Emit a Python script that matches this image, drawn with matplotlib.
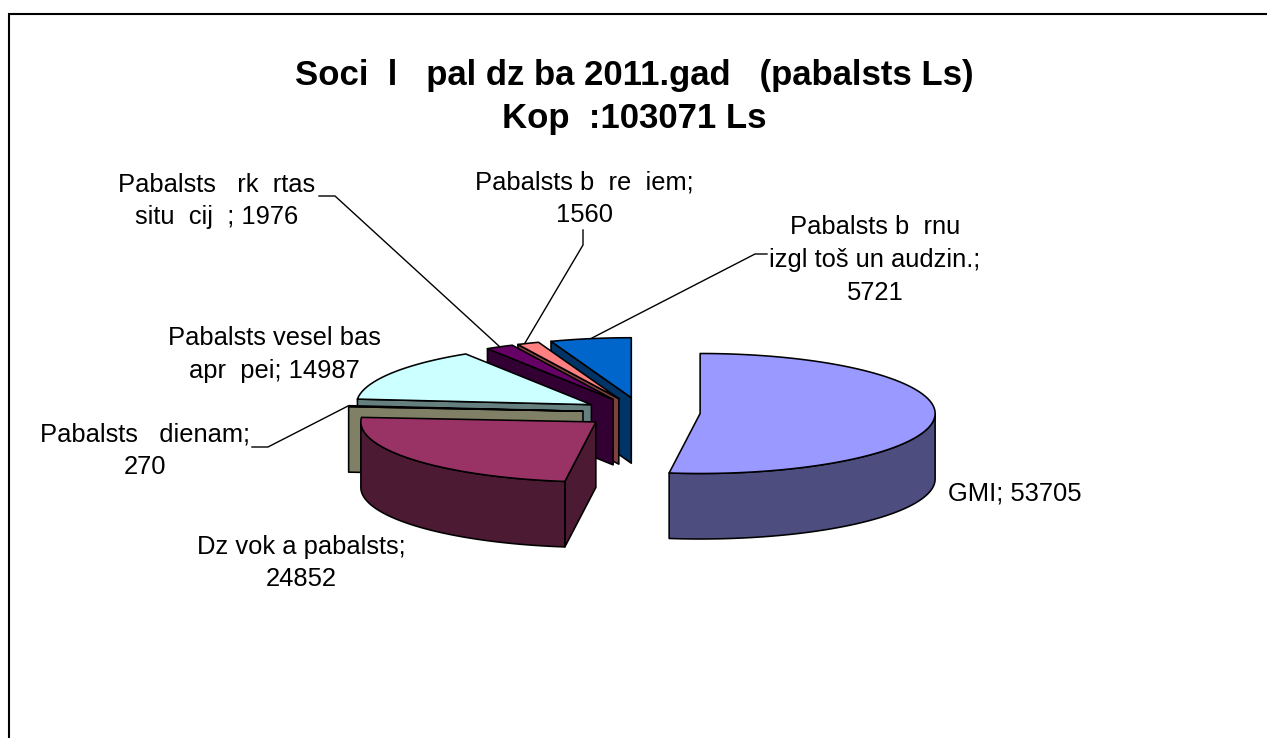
import numpy as np
import matplotlib; matplotlib.use('Agg')
import matplotlib.pyplot as plt
from matplotlib.patches import Polygon

plt.rcParams['font.family'] = ['Liberation Sans', 'DejaVu Sans']

TITLE = 'Soci  l   pal dz ba 2011.gad   (pabalsts Ls)\nKop  :103071 Ls'

# clockwise from 12 o'clock
values = [53705, 24852, 270, 14987, 1976, 1560, 5721]
labels = ['GMI; 53705',
          'Dz vok a pabalsts;\n24852',
          'Pabalsts   dienam;\n270',
          'Pabalsts vesel bas\napr  pei; 14987',
          'Pabalsts   rk  rtas\nsitu  cij  ; 1976',
          'Pabalsts b  re  iem;\n1560',
          'Pabalsts b  rnu\nizgl toš un audzin.;\n5721']
top_colors = ['#9999FF', '#993366', '#FFFFCC', '#CCFFFF', '#660066', '#FF8080', '#0066CC']
side_colors = ['#4D4D80', '#4D1A33', '#808066', '#668080', '#330033', '#804040', '#003366']

# label anchors + leader polylines, in pixels
label_pos = [(948, 494), (301, 563), (145, 451), (274, 354.5), (217, 201), (584, 199), (875, 260)]
leaders = [[(319, 196), (335, 196), (500, 347)],
           [(583, 230), (583, 245), (525, 343)],
           [(767, 254), (755, 254), (592, 338)],
           [(252, 447), (268, 447), (348, 406)]]

W, H = 1267, 738
CX, CY = 641.5, 412.5   # pie centre
RX, RY = 235, 60
EXPLODE = 0.25
DEPTH = 65.5

fig = plt.figure(figsize=(W/100, H/100), dpi=100)
ax = fig.add_axes([0, 0, 1, 1])
ax.set_xlim(0, W); ax.set_ylim(H, 0); ax.axis('off')

# frame: only the top and left edges are in the crop
ax.plot([W, 8.5, 8.5], [14, 14, H], color='black', lw=1.5, solid_joinstyle='miter')

def rim(cx, cy, a0, a1):
    a = np.radians(np.linspace(a0, a1, max(int(abs(a1-a0))*2, 2)))
    return np.column_stack([cx+RX*np.sin(a), cy-RY*np.cos(a)])

def face(pts, color, z):
    ax.add_patch(Polygon(pts, closed=True, fc=color, ec='black', lw=1.15, joinstyle='round', zorder=z))

total = sum(values)
ends = np.cumsum(values)/total*360
starts = np.r_[0, ends[:-1]]

# back slices first so that the front ones cover them
for i in range(len(values)-1, -1, -1):
    a0, a1 = starts[i], ends[i]
    m = np.radians((a0+a1)/2)
    cx = CX+EXPLODE*RX*np.sin(m); cy = CY-EXPLODE*RY*np.cos(m)
    z = 10+(len(values)-i)*3
    p0 = rim(cx, cy, a0, a0)[0]; p1 = rim(cx, cy, a1, a1)[0]
    drop = np.array([0, DEPTH])
    apex = np.array([cx, cy])
    if np.sin(np.radians(a0)) < -1e-6:   # start cut faces the viewer
        face([apex, p0, p0+drop, apex+drop], side_colors[i], z)
    if np.sin(np.radians(a1)) > 1e-6:    # end cut faces the viewer
        face([apex, p1, p1+drop, apex+drop], side_colors[i], z)
    lo, hi = max(a0, 90), min(a1, 270)
    if hi > lo:
        arc = rim(cx, cy, lo, hi)
        face(np.vstack([arc, (arc+drop)[::-1]]), side_colors[i], z+1)
    face(np.vstack([[apex], rim(cx, cy, a0, a1)]), top_colors[i], z+2)

for pts in leaders:
    xs, ys = zip(*pts)
    ax.plot(xs, ys, color='black', lw=1.0, zorder=5)

for i, (lab, (x, y)) in enumerate(zip(labels, label_pos)):
    ax.text(x, y, lab, ha='left' if i == 0 else 'center', va='center', multialignment='center',
            fontsize=18.4, linespacing=1.45, color='black', zorder=40)

ax.text(634, 97, TITLE, ha='center', va='center', multialignment='center',
        fontsize=25, fontweight='bold', linespacing=1.37, color='black', zorder=40)

fig.savefig('out.png', dpi=100)
